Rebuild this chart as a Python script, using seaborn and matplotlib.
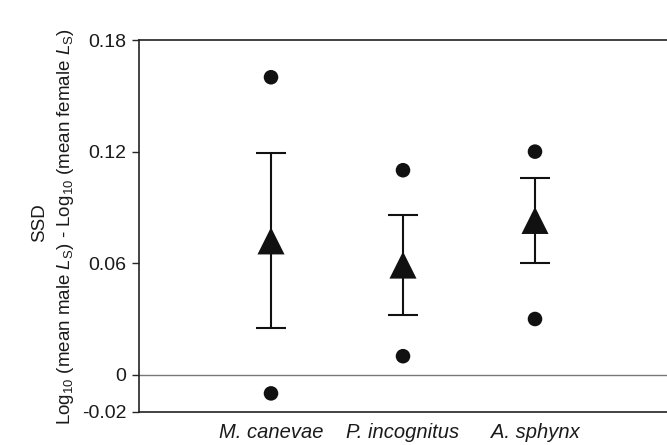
import numpy as np
import pandas as pd
import matplotlib.pyplot as plt
import seaborn as sns

# andmed (loetud pildilt)
species = ["M. canevae", "P. incognitus", "A. sphynx"]
means = [0.072, 0.059, 0.083]
lower = [0.025, 0.032, 0.060]
upper = [0.119, 0.086, 0.106]
point_max = [0.160, 0.110, 0.120]
point_min = [-0.010, 0.010, 0.030]

sns.set_style("ticks")
plt.rcParams["font.family"] = ["Liberation Sans", "DejaVu Sans"]
plt.rcParams["mathtext.fontset"] = "custom"
plt.rcParams["mathtext.rm"] = "Liberation Sans"
plt.rcParams["mathtext.it"] = "Liberation Sans:italic"

pos = np.arange(len(species))
pts = pd.DataFrame({
    "x": np.concatenate([pos, pos]),
    "y": point_max + point_min,
})

fig = plt.figure(figsize=(6.67, 4.45), dpi=100)
ax = fig.add_axes([0.2084, 0.0742, 0.7916, 0.8358])

ax.axhline(0, color="#777777", lw=1.0, zorder=1)

sns.scatterplot(data=pts, x="x", y="y", ax=ax, color="#111111", s=110,
                edgecolor="none", zorder=3)

err = [np.array(means) - np.array(lower), np.array(upper) - np.array(means)]
ax.errorbar(pos, means, yerr=err, fmt="none", ecolor="#111111",
            elinewidth=1.5, capsize=10.5, capthick=1.5, zorder=2)
sns.scatterplot(x=pos, y=means, ax=ax, marker="^", color="#111111", s=380,
                edgecolor="none", zorder=4)

ax.set_xlim(-1, 3)
ax.set_ylim(-0.02, 0.18)
ax.set_yticks([-0.02, 0, 0.06, 0.12, 0.18])
ax.set_yticklabels(["-0.02", "0", "0.06", "0.12", "0.18"])
ax.set_xticks(pos)
ax.set_xticklabels(species, fontstyle="italic")
ax.tick_params(axis="x", length=0, labelsize=14.5, pad=8, labelcolor="#1a1a1a")
ax.tick_params(axis="y", length=5, width=1, labelsize=14, pad=4, labelcolor="#1a1a1a")
ax.set_xlabel("")
ax.set_ylabel("")

for s in ["left", "top", "bottom"]:
    ax.spines[s].set_visible(True)
    ax.spines[s].set_color("#222222")
    ax.spines[s].set_linewidth(1.2)
ax.spines["right"].set_visible(False)

fig.text(0.060, 0.500, "SSD", rotation=90, ha="center", va="center",
         fontsize=13.5, color="#1a1a1a")
fig.text(0.098, 0.492,
         r"Log$_{10}$ (mean male $L_\mathrm{S}$) - Log$_{10}$ (mean female $L_\mathrm{S}$)",
         rotation=90, ha="center", va="center", fontsize=13.5, color="#1a1a1a")

fig.savefig("out.png", dpi=100)
